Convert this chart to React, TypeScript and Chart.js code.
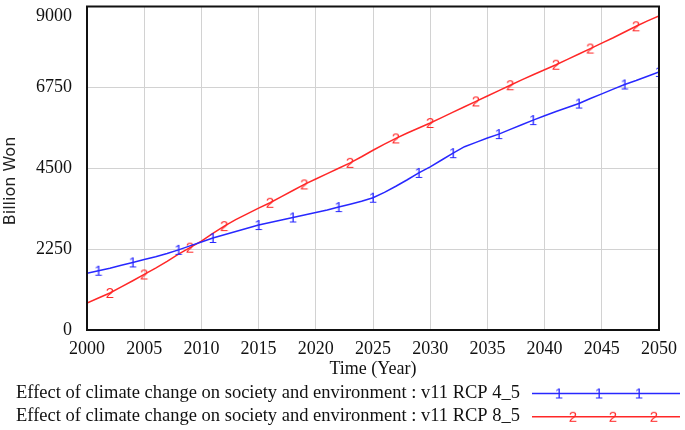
import React, { useEffect, useRef } from 'react';
import { Chart, registerables } from 'chart.js';

Chart.register(...registerables);

const years = [
  2000, 2001, 2002, 2003, 2004, 2005, 2006, 2007, 2008, 2009,
  2010, 2011, 2012, 2013, 2014, 2015, 2016, 2017, 2018, 2019,
  2020, 2021, 2022, 2023, 2024, 2025, 2026, 2027, 2028, 2029,
  2030, 2031, 2032, 2033, 2034, 2035, 2036, 2037, 2038, 2039,
  2040, 2041, 2042, 2043, 2044, 2045, 2046, 2047, 2048, 2049, 2050,
];

const rcp45 = [
  1580, 1650, 1720, 1800, 1880, 1960, 2040, 2130, 2230, 2340,
  2450, 2560, 2650, 2740, 2830, 2920, 2990, 3060, 3130, 3200,
  3270, 3340, 3420, 3500, 3580, 3680, 3830, 4000, 4180, 4370,
  4540, 4730, 4920, 5100, 5220, 5340, 5450, 5580, 5710, 5840,
  5960, 6080, 6190, 6300, 6440, 6570, 6700, 6830, 6940, 7060, 7180,
];

const rcp85 = [
  750, 890, 1030, 1200, 1370, 1545, 1720, 1910, 2110, 2290,
  2470, 2690, 2890, 3070, 3230, 3390, 3540, 3710, 3880, 4050,
  4200, 4350, 4500, 4650, 4820, 5000, 5170, 5330, 5480, 5620,
  5760, 5910, 6060, 6210, 6360, 6510, 6660, 6810, 6960, 7100,
  7240, 7380, 7530, 7680, 7830, 7980, 8130, 8290, 8450, 8600, 8740,
];

const markerYears45 = [2001, 2004, 2008, 2011, 2015, 2018, 2022, 2025, 2029, 2032, 2036, 2039, 2043, 2047, 2050];
const markerYears85 = [2002, 2005, 2009, 2012, 2016, 2019, 2023, 2027, 2030, 2034, 2037, 2041, 2044, 2048];

const yTicks = [0, 2250, 4500, 6750, 9000];

const seriesLabels = [
  'Effect of climate change on society and environment : v11 RCP 4_5',
  'Effect of climate change on society and environment : v11 RCP 8_5',
];
const markerChars = ['1', '2'];
const xTitle = 'Time (Year)';
const yTitle = 'Billion Won';

const BLUE = 'rgb(40,40,255)';
const RED = 'rgb(255,40,40)';
const SERIF = '"Liberation Serif", "Times New Roman", serif';
const TEXT = '#111';

function makeMarker(ch: string, color: string): HTMLCanvasElement {
  const c = document.createElement('canvas');
  c.width = 12;
  c.height = 16;
  const g = c.getContext('2d')!;
  g.font = '15px "Liberation Sans", Arial, sans-serif';
  g.fillStyle = color;
  g.textAlign = 'center';
  g.textBaseline = 'alphabetic';
  g.fillText(ch, 6, 13.4);
  return c;
}

export default function App() {
  const ref = useRef<HTMLCanvasElement>(null);

  useEffect(() => {
    document.body.style.margin = '0';
    const m1 = makeMarker(markerChars[0], BLUE);
    const m2 = makeMarker(markerChars[1], RED);
    const markers = [m1, m2];
    const colors = [BLUE, RED];

    const decor = {
      id: 'decor',
      afterDraw(chart: any) {
        const { ctx, chartArea: a, scales } = chart;
        ctx.save();
        // frame
        ctx.strokeStyle = '#111';
        ctx.lineWidth = 2;
        ctx.strokeRect(a.left, a.top, a.right - a.left, a.bottom - a.top);
        // y tick labels
        ctx.font = '18px ' + SERIF;
        ctx.fillStyle = TEXT;
        ctx.textAlign = 'right';
        ctx.textBaseline = 'middle';
        for (const v of yTicks) {
          const y = Math.max(scales.y.getPixelForValue(v), 16);
          ctx.fillText(String(v), 72, y);
        }
        // y title
        ctx.save();
        ctx.translate(11, 181);
        ctx.rotate(-Math.PI / 2);
        ctx.font = '16px "DejaVu Sans", sans-serif';
        ctx.fillStyle = '#222';
        ctx.textAlign = 'center';
        ctx.textBaseline = 'middle';
        ctx.fillText(yTitle, 0, 0);
        ctx.restore();
        // legend
        const rows = [
          { base: 397.5, ly: 393.5, mx: [559, 599, 639] },
          { base: 421, ly: 416.8, mx: [573, 613, 654] },
        ];
        rows.forEach((r, i) => {
          ctx.font = '18.5px ' + SERIF;
          ctx.fillStyle = TEXT;
          ctx.textAlign = 'left';
          ctx.textBaseline = 'alphabetic';
          ctx.fillText(seriesLabels[i], 16, r.base);
          ctx.strokeStyle = colors[i];
          ctx.lineWidth = 1.5;
          ctx.beginPath();
          ctx.moveTo(532, r.ly);
          ctx.lineTo(680, r.ly);
          ctx.stroke();
          for (const x of r.mx) {
            ctx.drawImage(markers[i], x - 6, r.ly - 8);
          }
        });
        ctx.restore();
      },
    };

    const chart = new Chart(ref.current!, {
      type: 'line',
      data: {
        datasets: [
          {
            label: seriesLabels[0],
            data: years.map((x, i) => ({ x, y: rcp45[i] })),
            borderColor: BLUE,
            backgroundColor: BLUE,
            borderWidth: 1.5,
            tension: 0,
            pointStyle: m1 as any,
            pointRadius: years.map((y) => (markerYears45.includes(y) ? 5 : 0)),
            pointHoverRadius: 0,
          },
          {
            label: seriesLabels[1],
            data: years.map((x, i) => ({ x, y: rcp85[i] })),
            borderColor: RED,
            backgroundColor: RED,
            borderWidth: 1.5,
            tension: 0,
            pointStyle: m2 as any,
            pointRadius: years.map((y) => (markerYears85.includes(y) ? 5 : 0)),
            pointHoverRadius: 0,
          },
        ],
      },
      options: {
        responsive: false,
        animation: false,
        events: [],
        layout: { padding: { left: 0, right: 22, top: 4, bottom: 0 } },
        plugins: { legend: { display: false }, tooltip: { enabled: false } },
        scales: {
          x: {
            type: 'linear',
            min: 2000,
            max: 2050,
            ticks: {
              stepSize: 5,
              maxRotation: 0,
              autoSkip: false,
              padding: 8,
              color: TEXT,
              font: { family: SERIF, size: 18 },
              callback: (v: any) => String(v),
            },
            grid: { color: '#d2d2d2', lineWidth: 1, drawTicks: false },
            border: { display: false },
            title: {
              display: true,
              text: xTitle,
              color: TEXT,
              font: { family: SERIF, size: 18 },
              padding: { top: 0, bottom: 50 },
            },
            afterFit: (s: any) => {
              s.height = 100;
            },
          },
          y: {
            min: 0,
            max: 9000,
            ticks: { stepSize: 2250, display: false },
            grid: { color: '#d2d2d2', lineWidth: 1, drawTicks: false },
            border: { display: false },
            afterFit: (s: any) => {
              s.width = 87;
            },
          },
        },
      },
      plugins: [decor],
    } as any);
    return () => chart.destroy();
  }, []);

  return <canvas ref={ref} width={685} height={430} style={{ display: 'block' }} />;
}
